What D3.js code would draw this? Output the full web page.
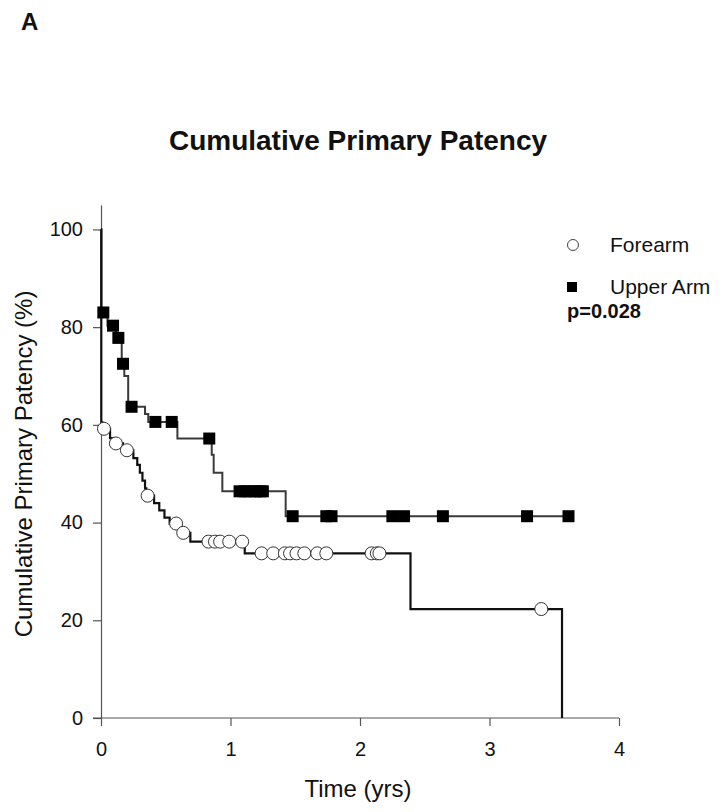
<!DOCTYPE html>
<html>
<head>
<meta charset="utf-8">
<script src="https://cdn.jsdelivr.net/npm/d3@7"></script>
<style>
  body { margin: 0; background: #fff; }
  text { font-family: "Liberation Sans", Arial, sans-serif; }
</style>
</head>
<body>
<div id="my_dataviz"></div>
<script>
// Kaplan-Meier steps (time in years, survival in %)
var forearmTimes = [0, 0.002, 0.01, 0.07, 0.1, 0.17, 0.25, 0.28, 0.3, 0.32, 0.34, 0.35, 0.41, 0.45, 0.49, 0.53, 0.6, 0.69, 1.11, 2.39, 3.56];
var forearmSurv  = [100, 60.5, 59.2, 57.3, 56.2, 54.8, 53.2, 51.8, 50.2, 48.6, 47.0, 45.5, 44.0, 42.5, 41.0, 39.8, 37.9, 36.1, 33.7, 22.3, 0];
var forearmCensored = [0.023, 0.115, 0.2, 0.36, 0.58, 0.635, 0.83, 0.88, 0.92, 0.99, 1.09,
                       1.24, 1.33, 1.42, 1.46, 1.51, 1.57, 1.67, 1.74, 2.09, 2.13, 2.15, 3.40];

var upperTimes = [0, 0.003, 0.05, 0.115, 0.16, 0.18, 0.21, 0.34, 0.365, 0.59, 0.855, 0.87, 0.937, 1.426, 3.61];
var upperSurv  = [100, 83.0, 80.3, 77.8, 72.5, 70.0, 63.7, 62.2, 60.6, 57.2, 53.9, 50.2, 46.4, 41.3, 41.3];
var upperCensored = [0.018, 0.093, 0.134, 0.17, 0.236, 0.42, 0.546, 0.836,
                     1.07, 1.11, 1.15, 1.19, 1.23, 1.25, 1.48, 1.74, 1.78, 2.25, 2.34, 2.64, 3.29, 3.61];

var xTicks = [0, 1, 2, 3, 4];
var yTicks = [0, 20, 40, 60, 80, 100];

var width = 728, height = 812;

var svg = d3.select("#my_dataviz")
  .append("svg")
    .attr("width", width)
    .attr("height", height);

var x = d3.scaleLinear().domain([0, 4]).range([101, 619]);
var y = d3.scaleLinear().domain([0, 105]).range([718, 205]);

// axes
var yAxis = svg.append("g")
  .attr("transform", "translate(" + x(0) + ",0)")
  .call(d3.axisLeft(y).tickValues(yTicks).tickFormat(d3.format("d"))
    .tickSize(8).tickSizeOuter(0).tickPadding(10));
var xAxis = svg.append("g")
  .attr("transform", "translate(0," + y(0) + ")")
  .call(d3.axisBottom(x).tickValues(xTicks).tickFormat(d3.format("d"))
    .tickSize(8).tickSizeOuter(0).tickPadding(16));

[xAxis, yAxis].forEach(function(a) {
  a.selectAll("path, line").attr("stroke", "#555").attr("stroke-width", 1.2);
  a.selectAll("text")
    .attr("fill", "#111")
    .style("font-size", "20px")
    .style("font-family", "Liberation Sans, Arial, sans-serif");
});
xAxis.select(".domain").attr("d", "M" + (x(0) - 8) + ",0H" + x(4));

// step function lookup for censor marks
function survAt(times, surv, t) {
  var s = surv[0];
  for (var i = 0; i < times.length; i++) {
    if (times[i] <= t) s = surv[i];
  }
  return s;
}

var line = d3.line()
  .x(function(d) { return x(d[0]); })
  .y(function(d) { return y(d[1]); })
  .curve(d3.curveStepAfter);

svg.append("path")
  .datum(d3.zip(upperTimes, upperSurv))
  .attr("d", line)
  .attr("fill", "none")
  .attr("stroke", "#3a3a3a")
  .attr("stroke-width", 2);

svg.append("path")
  .datum(d3.zip(forearmTimes, forearmSurv))
  .attr("d", line)
  .attr("fill", "none")
  .attr("stroke", "#111")
  .attr("stroke-width", 2.2);

// censor marks
svg.selectAll(".upper")
  .data(upperCensored)
  .enter()
  .append("rect")
    .attr("x", function(d) { return x(d) - 6; })
    .attr("y", function(d) { return y(survAt(upperTimes, upperSurv, d)) - 6; })
    .attr("width", 12)
    .attr("height", 12)
    .attr("fill", "#000");

svg.selectAll(".fore")
  .data(forearmCensored)
  .enter()
  .append("circle")
    .attr("cx", function(d) { return x(d); })
    .attr("cy", function(d) { return y(survAt(forearmTimes, forearmSurv, d)); })
    .attr("r", 6.5)
    .attr("fill", "#fff")
    .attr("stroke", "#333")
    .attr("stroke-width", 1);

// legend
svg.append("circle")
  .attr("cx", 573).attr("cy", 245).attr("r", 5.5)
  .attr("fill", "#fff").attr("stroke", "#444").attr("stroke-width", 1);
svg.append("text")
  .attr("x", 610).attr("y", 252)
  .style("font-size", "21px").attr("fill", "#111")
  .text("Forearm");
svg.append("rect")
  .attr("x", 567).attr("y", 282).attr("width", 10).attr("height", 10)
  .attr("fill", "#000");
svg.append("text")
  .attr("x", 610).attr("y", 294)
  .style("font-size", "21px").attr("fill", "#111")
  .text("Upper Arm");
svg.append("text")
  .attr("x", 567).attr("y", 318)
  .style("font-size", "20px").style("font-weight", "bold").attr("fill", "#111")
  .text("p=0.028");

// titles
svg.append("text")
  .attr("x", 21).attr("y", 30)
  .style("font-size", "24px").style("font-weight", "bold").attr("fill", "#111")
  .text("A");

svg.append("text")
  .attr("x", 358).attr("y", 150)
  .attr("text-anchor", "middle")
  .style("font-size", "28px").style("font-weight", "bold").attr("fill", "#111")
  .text("Cumulative Primary Patency");

svg.append("text")
  .attr("x", 358).attr("y", 797)
  .attr("text-anchor", "middle")
  .style("font-size", "24px").attr("fill", "#111")
  .text("Time (yrs)");

svg.append("text")
  .attr("transform", "translate(32," + y(52) + ") rotate(-90)")
  .attr("text-anchor", "middle")
  .style("font-size", "24px").attr("fill", "#111")
  .text("Cumulative Primary Patency (%)");
</script>
</body>
</html>
